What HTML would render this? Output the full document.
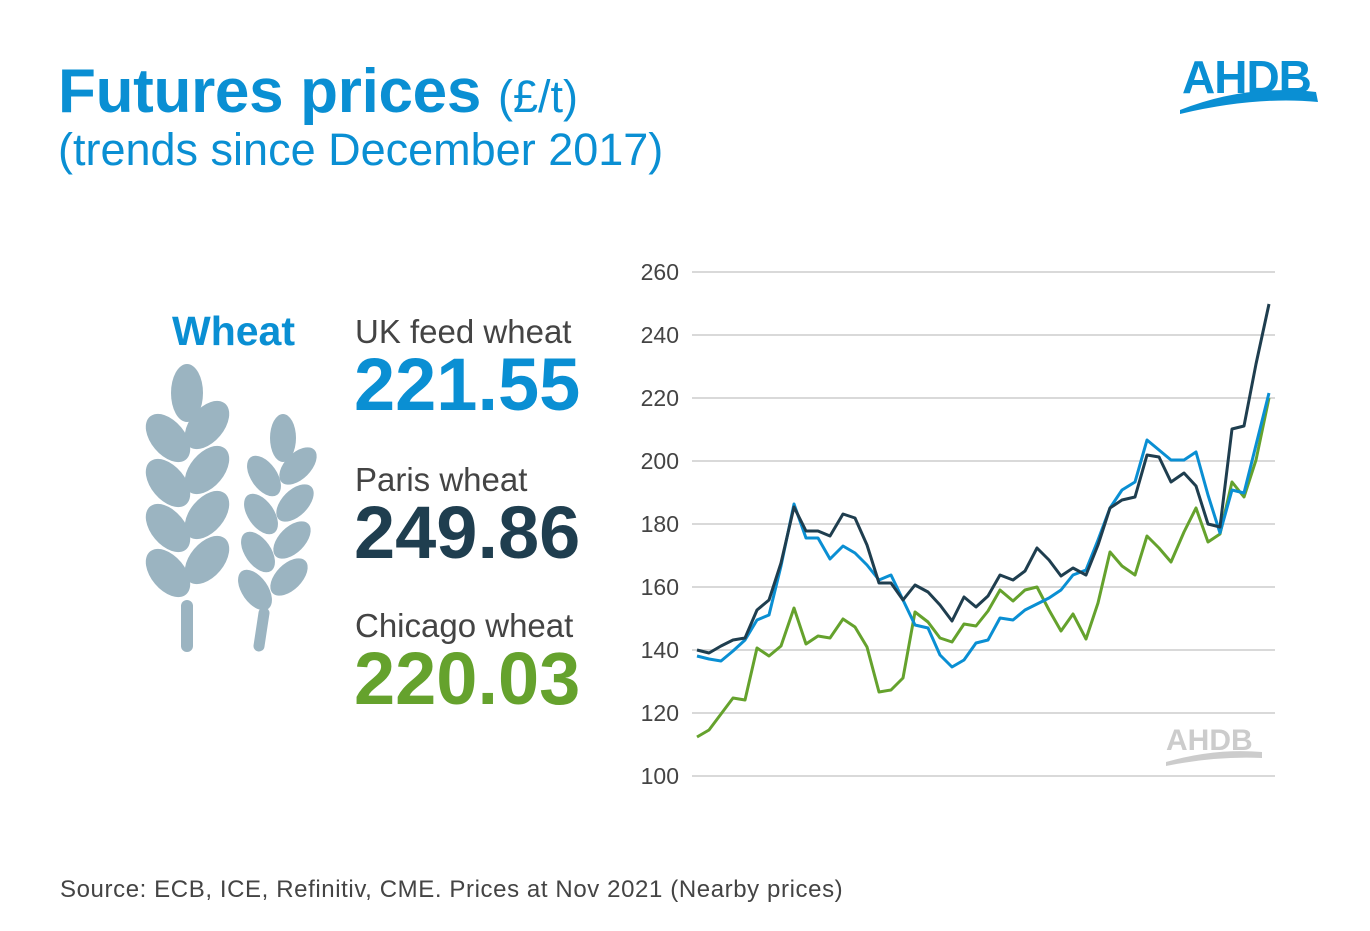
<!DOCTYPE html>
<html><head><meta charset="utf-8"><style>
body{margin:0;width:1370px;height:931px;background:#fff;font-family:"Liberation Sans",sans-serif;position:relative;overflow:hidden}
.a{position:absolute;white-space:nowrap}
</style></head><body>
<div class="a" style="left:58px;top:56px;color:#0a8fd3;font-size:62px;font-weight:bold;letter-spacing:-0.3px">Futures prices <span style="font-weight:normal;font-size:45px;letter-spacing:0">(£/t)</span></div>
<div class="a" style="left:58px;top:124px;color:#0a8fd3;font-size:45px">(trends since December 2017)</div>
<div class="a" style="left:1182px;top:50px;color:#0a8fd3;font-size:46px;font-weight:bold;letter-spacing:-1px">AHDB</div>
<svg class="a" style="left:1176px;top:88px" width="145" height="30"><path d="M4 22 Q70 -4 140 4 L142 14 Q80 8 4 26Z" fill="#0a8fd3"/></svg>

<div class="a" style="left:172px;top:308px;color:#0a8fd3;font-size:41px;font-weight:bold">Wheat</div>
<div class="a" style="left:355px;top:313px;color:#444;font-size:33px">UK feed wheat</div>
<div class="a" style="left:354px;top:342px;color:#0a8fd3;font-size:74px;font-weight:bold">221.55</div>
<div class="a" style="left:355px;top:461px;color:#444;font-size:33px">Paris wheat</div>
<div class="a" style="left:354px;top:490px;color:#1f3e4f;font-size:74px;font-weight:bold">249.86</div>
<div class="a" style="left:355px;top:607px;color:#444;font-size:33px">Chicago wheat</div>
<div class="a" style="left:354px;top:636px;color:#65a22d;font-size:74px;font-weight:bold">220.03</div>

<svg class="a" style="left:0;top:0" width="1370" height="931">
<g fill="#9bb4c1">
<ellipse cx="187" cy="393" rx="16" ry="29"/>
<g transform="rotate(-40 168 438)"><ellipse cx="168" cy="438" rx="17" ry="28"/></g>
<g transform="rotate(-40 168 483)"><ellipse cx="168" cy="483" rx="17" ry="28"/></g>
<g transform="rotate(-40 168 528)"><ellipse cx="168" cy="528" rx="17" ry="28"/></g>
<g transform="rotate(-40 168 573)"><ellipse cx="168" cy="573" rx="17" ry="28"/></g>
<g transform="rotate(40 207 425)"><ellipse cx="207" cy="425" rx="17" ry="28"/></g>
<g transform="rotate(40 207 470)"><ellipse cx="207" cy="470" rx="17" ry="28"/></g>
<g transform="rotate(40 207 515)"><ellipse cx="207" cy="515" rx="17" ry="28"/></g>
<g transform="rotate(40 207 560)"><ellipse cx="207" cy="560" rx="17" ry="28"/></g>
<rect x="181" y="600" width="12" height="52" rx="6"/>
<ellipse cx="283" cy="438" rx="13" ry="24"/>
<g transform="rotate(-35 264 476)"><ellipse cx="264" cy="476" rx="13" ry="23"/></g>
<g transform="rotate(-35 261 514)"><ellipse cx="261" cy="514" rx="13" ry="23"/></g>
<g transform="rotate(-35 258 552)"><ellipse cx="258" cy="552" rx="13" ry="23"/></g>
<g transform="rotate(-35 255 590)"><ellipse cx="255" cy="590" rx="13" ry="23"/></g>
<g transform="rotate(45 298 466)"><ellipse cx="298" cy="466" rx="13" ry="23"/></g>
<g transform="rotate(45 295 503)"><ellipse cx="295" cy="503" rx="13" ry="23"/></g>
<g transform="rotate(45 292 540)"><ellipse cx="292" cy="540" rx="13" ry="23"/></g>
<g transform="rotate(45 289 577)"><ellipse cx="289" cy="577" rx="13" ry="23"/></g>
<line x1="264" y1="613" x2="259" y2="646" stroke="#9bb4c1" stroke-width="11" stroke-linecap="round"/>
</g>
<g stroke="#d9d9d9" stroke-width="2">
<line x1="692" x2="1275" y1="272" y2="272"/><line x1="692" x2="1275" y1="335" y2="335"/><line x1="692" x2="1275" y1="398" y2="398"/><line x1="692" x2="1275" y1="461" y2="461"/><line x1="692" x2="1275" y1="524" y2="524"/><line x1="692" x2="1275" y1="587" y2="587"/><line x1="692" x2="1275" y1="650" y2="650"/><line x1="692" x2="1275" y1="713" y2="713"/><line x1="692" x2="1275" y1="776" y2="776"/>
</g>
<g font-size="23" fill="#444" text-anchor="end" font-family="Liberation Sans,sans-serif">
<text x="679" y="280">260</text><text x="679" y="343">240</text><text x="679" y="406">220</text><text x="679" y="469">200</text><text x="679" y="532">180</text><text x="679" y="595">160</text><text x="679" y="658">140</text><text x="679" y="721">120</text><text x="679" y="784">100</text>
</g>
<text x="1166" y="750" font-size="30" font-weight="bold" fill="#ccc" font-family="Liberation Sans,sans-serif">AHDB</text>
<path d="M1166 762 Q1215 748 1262 752 L1262 758 Q1215 756 1166 766Z" fill="#ccc"/>
<g fill="none" stroke-width="3" stroke-linejoin="round">
<polyline stroke="#65a22d" points="697,737 709,730 721,714 733,698 745,700 757,648 769,656 781,646 794,608 806,644 818,636 830,638 843,619 855,627 867,647 879,692 891,690 903,678 915,612 928,622 940,638 952,642 964,624 976,626 988,611 1000,590 1013,601 1025,590 1037,587 1049,610 1061,631 1073,614 1086,639 1098,603 1110,552 1122,566 1135,575 1147,536 1159,548 1171,562 1184,532 1196,508 1208,542 1220,534 1232,482 1244,497 1256,460 1269,398"/>
<polyline stroke="#0a8fd3" points="697,656 709,659 721,661 733,651 745,640 757,620 769,615 781,566 794,504 806,538 818,538 830,559 843,546 855,553 867,565 879,580 891,575 903,600 915,625 928,628 940,655 952,667 964,660 976,643 988,640 1000,618 1013,620 1025,610 1037,604 1049,598 1061,590 1073,575 1086,570 1098,540 1110,508 1122,490 1135,482 1147,440 1159,450 1171,460 1184,460 1196,452 1208,495 1220,533 1232,490 1244,493 1256,445 1269,393"/>
<polyline stroke="#1f3e4f" points="697,650 709,653 721,646 733,640 745,638 757,610 769,600 781,563 794,507 806,531 818,531 830,536 843,514 855,518 867,545 879,583 891,583 903,600 915,585 928,592 940,605 952,621 964,597 976,607 988,596 1000,575 1013,580 1025,571 1037,548 1049,560 1061,576 1073,568 1086,575 1098,545 1110,508 1122,500 1135,497 1147,455 1159,457 1171,482 1184,473 1196,486 1208,524 1220,527 1232,429 1244,426 1256,364 1269,304"/>
</g>
</svg>
<div class="a" style="left:60px;top:876px;color:#444;font-size:24px;letter-spacing:0.6px">Source: ECB, ICE, Refinitiv, CME. Prices at Nov 2021 (Nearby prices)</div>
</body></html>
